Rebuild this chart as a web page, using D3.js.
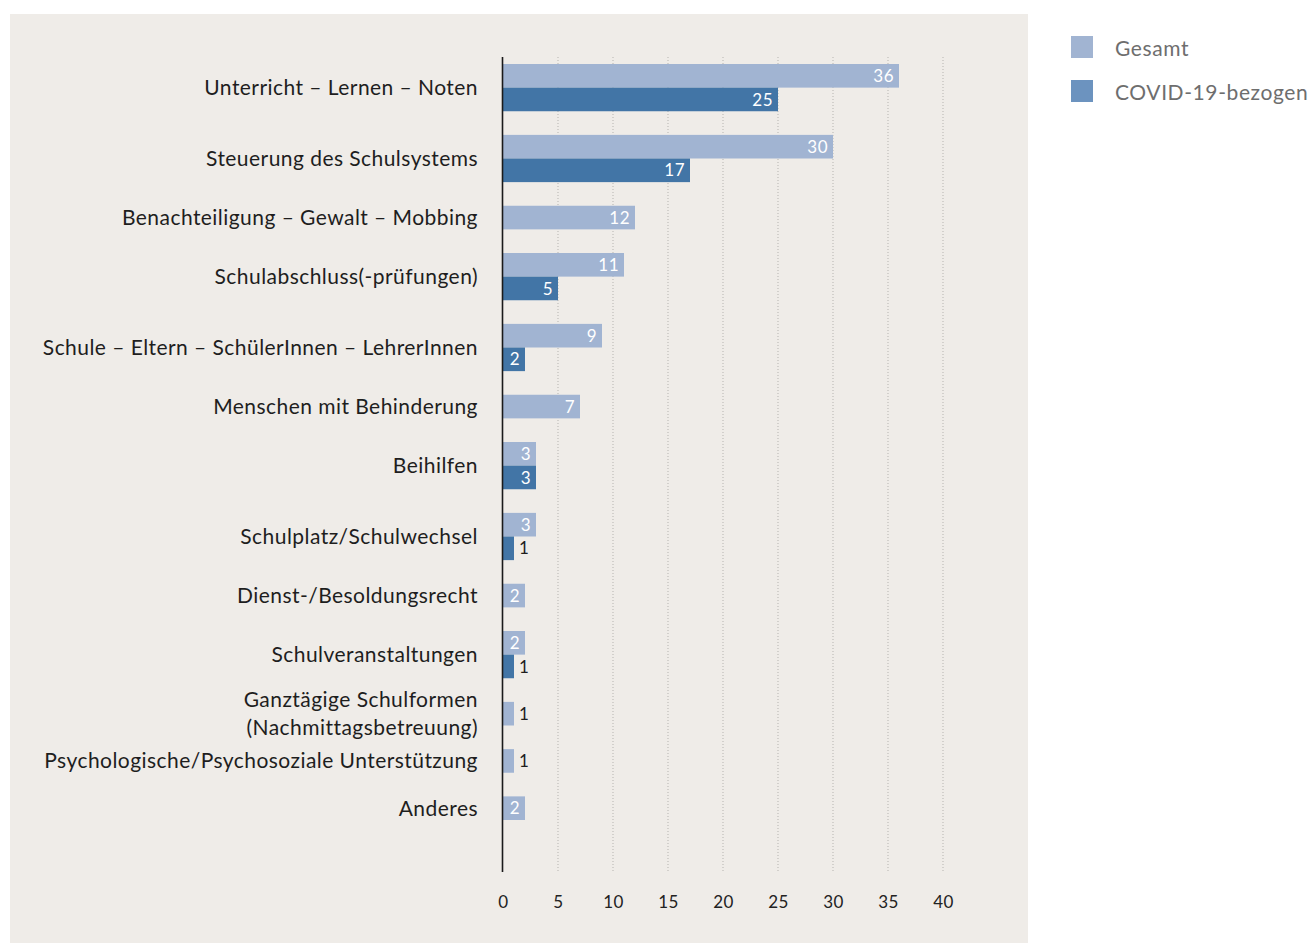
<!DOCTYPE html>
<html>
<head>
<meta charset="utf-8">
<script src="https://cdn.jsdelivr.net/npm/d3@7"></script>
<style>
  body { margin: 0; background: #fff; }
  svg { display: block; font-family: Lato, "Noto Sans", sans-serif; }
</style>
</head>
<body>
<svg id="chart" width="1312" height="943"></svg>
<script>
(function() {
  /* Data */
  var categories = [
    "Unterricht – Lernen – Noten",
    "Steuerung des Schulsystems",
    "Benachteiligung – Gewalt – Mobbing",
    "Schulabschluss(-prüfungen)",
    "Schule – Eltern – SchülerInnen – LehrerInnen",
    "Menschen mit Behinderung",
    "Beihilfen",
    "Schulplatz/Schulwechsel",
    "Dienst-/Besoldungsrecht",
    "Schulveranstaltungen",
    "Ganztägige Schulformen\n(Nachmittagsbetreuung)",
    "Psychologische/Psychosoziale Unterstützung",
    "Anderes"
  ];
  var gesamt = [36, 30, 12, 11, 9, 7, 3, 3, 2, 2, 1, 1, 2];
  var covid  = [25, 17, null, 5, 2, null, 3, 1, null, 1, null, null, null];
  var seriesNames = ["Gesamt", "COVID-19-bezogen"];
  var xTicks = [0, 5, 10, 15, 20, 25, 30, 35, 40];

  /* colours */
  var barColors = ["#a1b4d2", "#4275a6"];
  var legendColors = ["#a1b4d2", "#6c93bf"];

  /* SVG properties */
  var svg = d3.select("#chart");

  svg.append("rect")
     .attr("x", 10).attr("y", 14)
     .attr("width", 1018).attr("height", 929)
     .attr("fill", "#efece8");

  /* bars, one slot per bar, a gap slot between categories */
  var bars = [];
  var slots = [];
  categories.forEach(function(c, i) {
    if (i > 0) slots.push("gap" + i);
    [gesamt[i], covid[i]].forEach(function(v, s) {
      if (v === null) return;
      var key = i + "|" + s;
      slots.push(key);
      bars.push({ cat: i, series: s, value: v, key: key });
    });
  });

  var x = d3.scaleLinear().domain([0, 40]).range([503, 943]);
  var y = d3.scaleBand().domain(slots).range([64, 820]).padding(0);

  /* grid */
  svg.append("g").selectAll("line")
     .data(xTicks.slice(1))
     .enter().append("line")
     .attr("x1", function(d) { return x(d); })
     .attr("x2", function(d) { return x(d); })
     .attr("y1", 57).attr("y2", 872)
     .attr("stroke", "#b5b3af")
     .attr("stroke-width", 1)
     .attr("stroke-dasharray", "1,2");

  /* x axis */
  var xAxis = svg.append("g")
     .attr("transform", "translate(0,888)")
     .call(d3.axisBottom(x).tickValues(xTicks).tickSize(0).tickPadding(8));
  xAxis.select(".domain").remove();
  xAxis.selectAll("text")
       .attr("font-size", 17)
       .attr("letter-spacing", 0.5)
       .attr("font-family", "Lato, 'Noto Sans', sans-serif")
       .attr("fill", "#222");

  /* bars */
  svg.append("g").selectAll("rect")
     .data(bars)
     .enter().append("rect")
     .attr("x", x(0))
     .attr("y", function(d) { return y(d.key); })
     .attr("width", function(d) { return x(d.value) - x(0); })
     .attr("height", y.bandwidth())
     .attr("fill", function(d) { return barColors[d.series]; });

  /* value labels */
  svg.append("g").selectAll("text")
     .data(bars)
     .enter().append("text")
     .text(function(d) { return d.value; })
     .attr("x", function(d) { return d.value >= 2 ? x(d.value) - 5 : x(d.value) + 5; })
     .attr("y", function(d) { return y(d.key) + y.bandwidth() / 2; })
     .attr("dy", "0.36em")
     .attr("text-anchor", function(d) { return d.value >= 2 ? "end" : "start"; })
     .attr("font-size", 17)
     .attr("letter-spacing", 0.5)
     .attr("fill", function(d) { return d.value >= 2 ? "#fff" : "#1e1e1e"; });

  /* y axis line */
  svg.append("line")
     .attr("x1", 502.5).attr("x2", 502.5)
     .attr("y1", 57).attr("y2", 872)
     .attr("stroke", "#1a1a1a")
     .attr("stroke-width", 1.6);

  /* category labels */
  var catLabels = svg.append("g").selectAll("text")
     .data(categories)
     .enter().append("text")
     .attr("x", 478)
     .attr("text-anchor", "end")
     .attr("font-size", 21)
     .attr("letter-spacing", 0.45)
     .attr("fill", "#1e1e1e")
     .attr("y", function(d, i) {
        var keys = bars.filter(function(b) { return b.cat === i; })
                       .map(function(b) { return y(b.key) + y.bandwidth() / 2; });
        return d3.mean(keys);
     });
  catLabels.each(function(d) {
    var lines = d.split("\n");
    var el = d3.select(this);
    var cy = +el.attr("y");
    lines.forEach(function(line, k) {
      el.append("tspan")
        .attr("x", 478)
        .attr("y", cy + (k - (lines.length - 1) / 2) * 28)
        .attr("dy", "0.35em")
        .text(line);
    });
  });

  /* legend */
  var legend = svg.append("g").selectAll("g")
     .data(seriesNames)
     .enter().append("g")
     .attr("transform", function(d, i) { return "translate(1071," + (36 + i * 44) + ")"; });
  legend.append("rect")
        .attr("width", 22).attr("height", 22)
        .attr("fill", function(d, i) { return legendColors[i]; });
  legend.append("text")
        .attr("x", 44).attr("y", 12)
        .attr("dy", "0.36em")
        .attr("font-size", 21)
        .attr("letter-spacing", 0.6)
        .attr("fill", "#6e6e6e")
        .text(function(d) { return d; });
})();
</script>
</body>
</html>
